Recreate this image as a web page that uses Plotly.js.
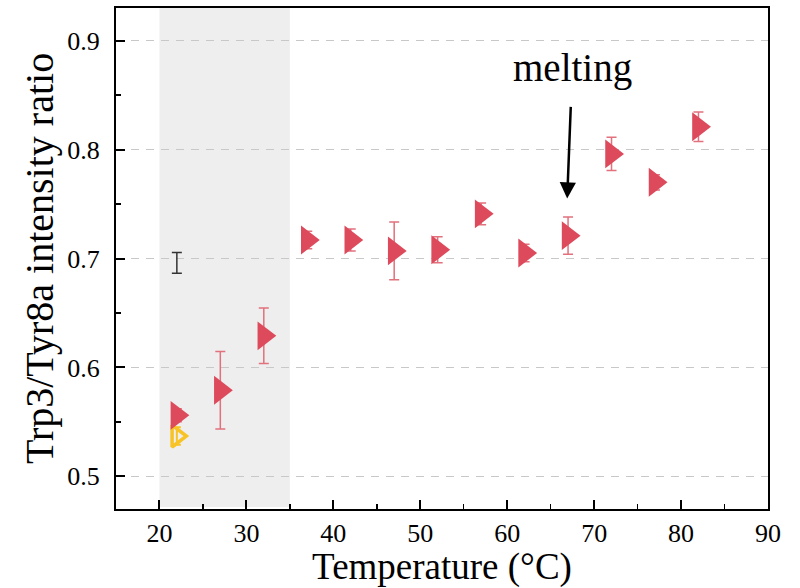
<!DOCTYPE html>
<html>
<head>
<meta charset="utf-8">
<script src="https://cdn.plot.ly/plotly-3.0.1.min.js"></script>
<style>
  html, body { margin: 0; padding: 0; background: #fff; }
  #chart { width: 800px; height: 588px; }
</style>
</head>
<body>
<div id="chart"></div>
<script>
// Intensity ratio vs temperature
const temperature = [22, 27, 32, 37, 42, 47, 52, 57, 62, 67, 72, 77, 82];
const ratio = [0.556, 0.579, 0.629, 0.717, 0.717, 0.707, 0.708, 0.741, 0.705, 0.721, 0.796, 0.770, 0.821];
const ratioErr = [0.006, 0.0355, 0.0255, 0.008, 0.010, 0.0265, 0.012, 0.010, 0.008, 0.017, 0.0153, 0.007, 0.0135];

const refTemp = [22];
const refRatio = [0.537];
const refErr = [0.008];

const blankTemp = [22];
const blankRatio = [0.696];
const blankErr = [0.0095];

const xTicks = [20, 30, 40, 50, 60, 70, 80, 90];
const yTicks = [0.5, 0.6, 0.7, 0.8, 0.9];

const serif = 'Liberation Serif, Times New Roman, serif';
const red = '#dc4a5c';

const traces = [
  {
    x: blankTemp, y: blankRatio, type: 'scatter', mode: 'markers',
    marker: { size: 1, opacity: 0 },
    error_y: { type: 'data', array: blankErr, visible: true, color: '#333333', thickness: 1.5, width: 5 },
    showlegend: false, hoverinfo: 'skip'
  },
  {
    x: refTemp, y: refRatio, type: 'scatter', mode: 'markers',
    marker: { symbol: 'triangle-right-open', size: 19, color: '#f7c325', line: { width: 3.5, color: '#f7c325' } },
    error_y: { type: 'data', array: refErr, visible: true, color: '#f7c325', thickness: 2, width: 4 },
    showlegend: false
  },
  {
    x: temperature, y: ratio, type: 'scatter', mode: 'markers',
    marker: { symbol: 'triangle-right', size: 25, color: red, line: { width: 0 } },
    error_y: { type: 'data', array: ratioErr, visible: true, color: '#e2707d', thickness: 1.5, width: 5 },
    showlegend: false
  }
];

const layout = {
  width: 800, height: 588,
  margin: { l: 116, r: 32, t: 8, b: 79 },
  paper_bgcolor: '#ffffff',
  plot_bgcolor: '#ffffff',
  font: { family: serif, color: '#000' },
  xaxis: {
    range: [15, 90],
    tickvals: xTicks,
    ticktext: xTicks.map(String),
    ticks: 'inside', ticklen: 9, tickwidth: 2, tickcolor: '#000',
    minor: { dtick: 5, tick0: 15, ticks: 'inside', ticklen: 5, tickwidth: 1.5, tickcolor: '#000', showgrid: false },
    showline: true, linewidth: 2, linecolor: '#000', mirror: true,
    showgrid: false, zeroline: false,
    tickfont: { family: serif, size: 26, color: '#000' },
    title: { text: 'Temperature (°C)', font: { family: serif, size: 37, color: '#000' }, standoff: 7 }
  },
  yaxis: {
    range: [0.47, 0.93],
    tickvals: yTicks,
    ticktext: yTicks.map(v => v.toFixed(1)),
    ticks: 'inside', ticklen: 9, tickwidth: 2, tickcolor: '#000',
    ticklabelstandoff: 9,
    minor: { dtick: 0.05, tick0: 0.45, ticks: 'inside', ticklen: 5, tickwidth: 1.5, tickcolor: '#000', showgrid: false },
    showline: true, linewidth: 2, linecolor: '#000', mirror: true,
    showgrid: true, gridcolor: '#c8c8c8', gridwidth: 1.5, griddash: '8px,7px',
    zeroline: false,
    tickfont: { family: serif, size: 26, color: '#000' },
    title: { text: 'Trp3/Tyr8a intensity ratio', font: { family: serif, size: 40, color: '#000' }, standoff: 1 }
  },
  shapes: [
    {
      type: 'rect', xref: 'x', yref: 'paper', x0: 20, x1: 35, y0: 0.004, y1: 1,
      fillcolor: '#eeeeee', line: { width: 0 }, layer: 'below'
    }
  ],
  annotations: [
    {
      x: 67.5, y: 0.875, xref: 'x', yref: 'y', text: 'melting', showarrow: false,
      font: { family: serif, size: 39, color: '#000' }, yanchor: 'middle'
    },
    {
      x: 66.9, y: 0.755, xref: 'x', yref: 'y',
      ax: 67.35, ay: 0.847, axref: 'x', ayref: 'y',
      text: ' ', showarrow: true, arrowhead: 2, arrowsize: 1.3, arrowwidth: 2.5, arrowcolor: '#000'
    }
  ]
};

Plotly.newPlot('chart', traces, layout, { displayModeBar: false, staticPlot: true });
</script>
</body>
</html>
